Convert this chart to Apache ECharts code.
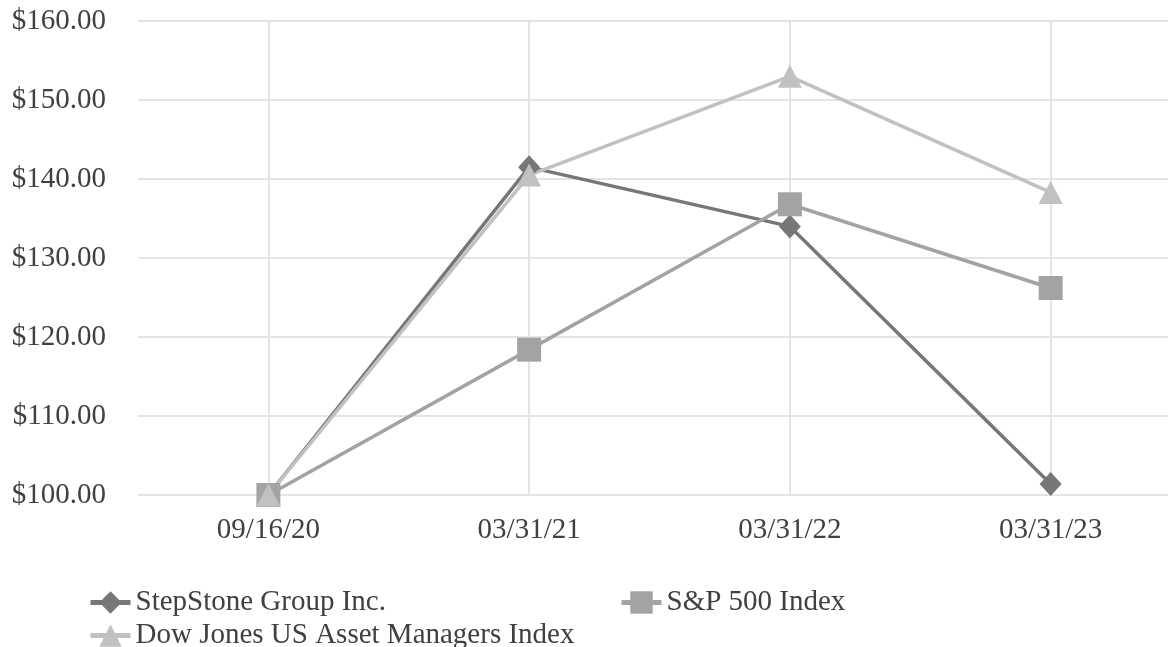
<!DOCTYPE html>
<html>
<head>
<meta charset="utf-8">
<script src="https://cdn.jsdelivr.net/npm/echarts@6/dist/echarts.min.js"></script>
<style>
html,body{margin:0;padding:0;background:#fff;overflow:hidden;width:1168px;height:647px;}
#chart{width:1181px;height:647px;}
</style>
</head>
<body>
<div id="chart"></div>
<script>
var categories = ['09/16/20', '03/31/21', '03/31/22', '03/31/23'];
var seriesNames = ['StepStone Group Inc.', 'S&P 500 Index', 'Dow Jones US Asset Managers Index'];
var stepStone = [100.00, 141.5, 134.0, 101.4];
var sp500 = [100.00, 118.4, 136.8, 126.2];
var dowJones = [100.00, 140.5, 153.0, 138.3];
var yMin = 100, yMax = 160, yStep = 10;

var textColor = '#404040';
var font = 'Liberation Serif';
var colors = ['#77777a', '#a3a3a6', '#c1c1c4'];
var symbols = ['diamond', 'rect', 'triangle'];
var symbolSizes = [[22, 24], 24, [24, 23]];
var dataSets = [stepStone, sp500, dowJones];

var chart = echarts.init(document.getElementById('chart'), null, {renderer: 'canvas'});

var series = seriesNames.map(function (name, i) {
  return {
    name: name,
    type: 'line',
    data: dataSets[i],
    symbol: symbols[i],
    symbolSize: symbolSizes[i],
    showAllSymbol: true,
    lineStyle: {color: colors[i], width: 3.5},
    itemStyle: {color: colors[i]},
    emphasis: {disabled: true},
    animation: false
  };
});

function legendFor(i, left, top) {
  return {
    data: [seriesNames[i]],
    left: left,
    top: top,
    itemWidth: 40,
    itemHeight: 28,
    itemGap: 0,
    padding: 0,
    selectedMode: false,
    lineStyle: {width: 5},
    textStyle: {color: textColor, fontFamily: font, fontSize: 29}
  };
}

chart.setOption({
  backgroundColor: '#ffffff',
  animation: false,
  grid: {left: 138, right: 0, top: 21, bottom: 152, containLabel: false},
  legend: [
    legendFor(0, 88, 588),
    legendFor(1, 619, 588),
    legendFor(2, 88, 621)
  ],
  xAxis: {
    type: 'category',
    data: categories,
    boundaryGap: true,
    axisLine: {show: false},
    axisTick: {show: false},
    axisLabel: {color: textColor, fontFamily: font, fontSize: 29, margin: 21},
    splitLine: {show: true, alignWithLabel: true, lineStyle: {color: '#e4e4e4', width: 2}}
  },
  yAxis: {
    type: 'value',
    min: yMin,
    max: yMax,
    interval: yStep,
    axisLine: {show: false},
    axisTick: {show: false},
    axisLabel: {
      color: textColor, fontFamily: font, fontSize: 29, margin: 32,
      formatter: function (v) { return '$' + v.toFixed(2); }
    },
    splitLine: {show: true, lineStyle: {color: '#e4e4e4', width: 2}}
  },
  series: series
});
</script>
</body>
</html>
